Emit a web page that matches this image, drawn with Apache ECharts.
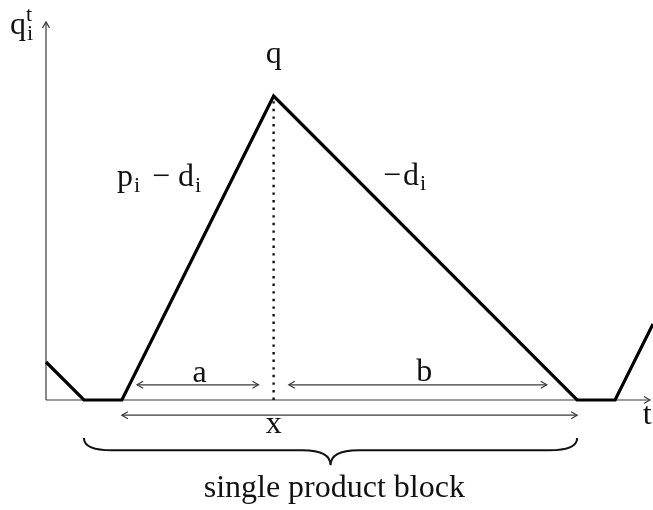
<!DOCTYPE html>
<html>
<head>
<meta charset="utf-8">
<title>Single product block</title>
<script src="https://cdn.jsdelivr.net/npm/echarts@6/dist/echarts.min.js"></script>
<style>
  html, body { margin: 0; padding: 0; background: #fff; }
  #chart { width: 653px; height: 510px; }
</style>
</head>
<body>
<div id="chart"></div>
<script>
// Inventory level q over time t for one product (sawtooth with idle periods)
const tPoints = [0, 1, 2, 6, 14, 15, 16];
const qValues = [1, 0, 0, 8, 0, 0, 2];

// Peak of the production run
const peakT = 6;
const peakQ = 8;

// Axis extents (data units)
const tMax = 16;
const qMax = 10;
const tAxisEnd = 15.92;
const qAxisEnd = 9.95;

// Dimension arrows: [from, to, level]
const spanA = [2.4, 5.6, 0.4];
const spanB = [6.4, 13.2, 0.4];
const spanX = [2, 14, -0.4];

// Brace under the block: [from, to, top, tip]
const braceSpan = [1, 14, -1, -1.72];

// Labels: text pieces with anchor in data units
const labelA = { t: 4.05, q: 0.7, parts: [{ t: 'a' }] };
const labelB = { t: 9.97, q: 0.72, parts: [{ t: 'b' }] };
const labelX = { t: 6.0, q: -0.66, parts: [{ t: 'x' }] };
const labelPeak = { t: 6.0, q: 9.1, parts: [{ t: 'q' }] };
const labelRise = { t: 2.98, q: 5.84, parts: [{ t: 'p' }, { t: 'i', sub: true, gapL: 1 }, { t: '\u2212', gapL: 12, gapR: 8 }, { t: 'd' }, { t: 'i', sub: true, gapL: 1 }] };
const labelFall = { t: 9.45, q: 5.88, parts: [{ t: '\u2212', gapR: 2 }, { t: 'd' }, { t: 'i', sub: true, gapL: 1 }] };
const labelYAxis = { t: -0.66, q: 9.84, parts: [{ t: 'q' }, { t: 'i', sub: true, noAdvance: true, gapL: 1 }, { t: 't', sup: true }] };
const labelTAxis = { t: 15.85, q: -0.42, parts: [{ t: 't' }] };
const blockCaption = { t: 7.6, q: -2.33, text: 'single product block' };

const FONT = '"Liberation Serif", "DejaVu Serif", serif';
const MAIN_SIZE = 32;
const SUB_SIZE = 22;
const CAPTION_SIZE = 32;
const AXIS_COLOR = '#3a3a3a';

const measureCtx = document.createElement('canvas').getContext('2d');
function textWidth(str, size) {
  measureCtx.font = size + 'px ' + FONT;
  return measureCtx.measureText(str).width;
}

// Build a row of text pieces centred at (cx, cy) with sub/superscripts
function mathText(cx, cy, parts) {
  const items = [];
  let x = 0;
  let pendingMax = 0;
  parts.forEach(function (p) {
    const size = (p.sub || p.sup) ? SUB_SIZE : MAIN_SIZE;
    x += p.gapL || 0;
    const w = textWidth(p.t, size);
    items.push({ p: p, size: size, x: x, w: w });
    if (p.noAdvance) {
      pendingMax = Math.max(pendingMax, w);
      x -= p.gapL || 0;
    } else {
      x += Math.max(w, pendingMax) + (p.gapR || 0);
      pendingMax = 0;
    }
  });
  const total = x;
  return items.map(function (it) {
    let dy = 0;
    if (it.p.sub) dy = 8;
    if (it.p.sup) dy = -11;
    return {
      type: 'text',
      x: cx - total / 2 + it.x,
      y: cy + dy,
      style: {
        text: it.p.t,
        font: it.size + 'px ' + FONT,
        fill: '#111',
        align: 'left',
        verticalAlign: 'middle'
      },
      silent: true
    };
  });
}

function chevron(tip, dir, color) {
  // open arrow head; dir = unit vector pointing toward the tip
  const len = 6, half = 3.5;
  const bx = tip[0] - dir[0] * len, by = tip[1] - dir[1] * len;
  const nx = -dir[1], ny = dir[0];
  return {
    type: 'polyline',
    shape: { points: [[bx + nx * half, by + ny * half], tip, [bx - nx * half, by - ny * half]] },
    style: { stroke: color, lineWidth: 1.2, fill: null },
    silent: true
  };
}

function segment(p1, p2, color, width) {
  return {
    type: 'line',
    shape: { x1: p1[0], y1: p1[1], x2: p2[0], y2: p2[1] },
    style: { stroke: color, lineWidth: width },
    silent: true
  };
}

function doubleArrow(api, span) {
  const a = api.coord([span[0], span[2]]);
  const b = api.coord([span[1], span[2]]);
  return [
    segment(a, b, AXIS_COLOR, 1.2),
    chevron(a, [-1, 0], AXIS_COLOR),
    chevron(b, [1, 0], AXIS_COLOR)
  ];
}

function renderDecor(params, api) {
  const children = [];
  // axes
  const o = api.coord([0, 0]);
  const xe = api.coord([tAxisEnd, 0]);
  const ye = api.coord([0, qAxisEnd]);
  children.push(segment(o, xe, AXIS_COLOR, 1.2));
  children.push(segment(o, ye, AXIS_COLOR, 1.2));
  children.push(chevron(xe, [1, 0], AXIS_COLOR));
  children.push(chevron(ye, [0, -1], AXIS_COLOR));

  // dimension arrows
  [spanA, spanB, spanX].forEach(function (s) {
    doubleArrow(api, s).forEach(function (c) { children.push(c); });
  });

  // brace
  const L = api.coord([braceSpan[0], braceSpan[2]]);
  const R = api.coord([braceSpan[1], braceSpan[2]]);
  const T = api.coord([(braceSpan[0] + braceSpan[1]) / 2, braceSpan[3]]);
  const yH = L[1] + (T[1] - L[1]) * 0.45;
  const r = 28;
  const path =
    'M' + L[0] + ',' + L[1] +
    ' Q' + L[0] + ',' + yH + ' ' + (L[0] + r) + ',' + yH +
    ' L' + (T[0] - r) + ',' + yH +
    ' Q' + T[0] + ',' + yH + ' ' + T[0] + ',' + T[1] +
    ' Q' + T[0] + ',' + yH + ' ' + (T[0] + r) + ',' + yH +
    ' L' + (R[0] - r) + ',' + yH +
    ' Q' + R[0] + ',' + yH + ' ' + R[0] + ',' + R[1];
  children.push({
    type: 'path',
    shape: { pathData: path },
    style: { stroke: '#111', lineWidth: 2, fill: null },
    silent: true
  });

  // labels
  [labelA, labelB, labelX, labelPeak, labelRise, labelFall, labelYAxis, labelTAxis].forEach(function (lb) {
    const c = api.coord([lb.t, lb.q]);
    mathText(c[0], c[1], lb.parts).forEach(function (el) { children.push(el); });
  });
  const cap = api.coord([blockCaption.t, blockCaption.q]);
  children.push({
    type: 'text',
    x: cap[0], y: cap[1],
    style: {
      text: blockCaption.text,
      font: CAPTION_SIZE + 'px ' + FONT,
      fill: '#111',
      align: 'center',
      verticalAlign: 'middle'
    },
    silent: true
  });

  return { type: 'group', children: children };
}

const chart = echarts.init(document.getElementById('chart'), null, { renderer: 'canvas' });
chart.setOption({
  animation: false,
  backgroundColor: '#fff',
  grid: { left: 46, top: 20, width: 608, height: 380 },
  xAxis: { type: 'value', min: 0, max: tMax, show: false },
  yAxis: { type: 'value', min: 0, max: qMax, show: false },
  series: [
    {
      type: 'custom',
      renderItem: renderDecor,
      data: [[0, 0]],
      clip: false,
      silent: true,
      z: 1
    },
    {
      type: 'line',
      data: [[peakT, 0], [peakT, peakQ]],
      symbol: 'none',
      lineStyle: { color: '#111', width: 2.4, type: [2.4, 5.2], cap: 'butt' },
      silent: true,
      z: 2
    },
    {
      type: 'line',
      data: tPoints.map(function (t, i) { return [t, qValues[i]]; }),
      symbol: 'none',
      lineStyle: { color: '#000', width: 3.2, join: 'miter' },
      clip: false,
      silent: true,
      z: 3
    }
  ]
});
</script>
</body>
</html>
